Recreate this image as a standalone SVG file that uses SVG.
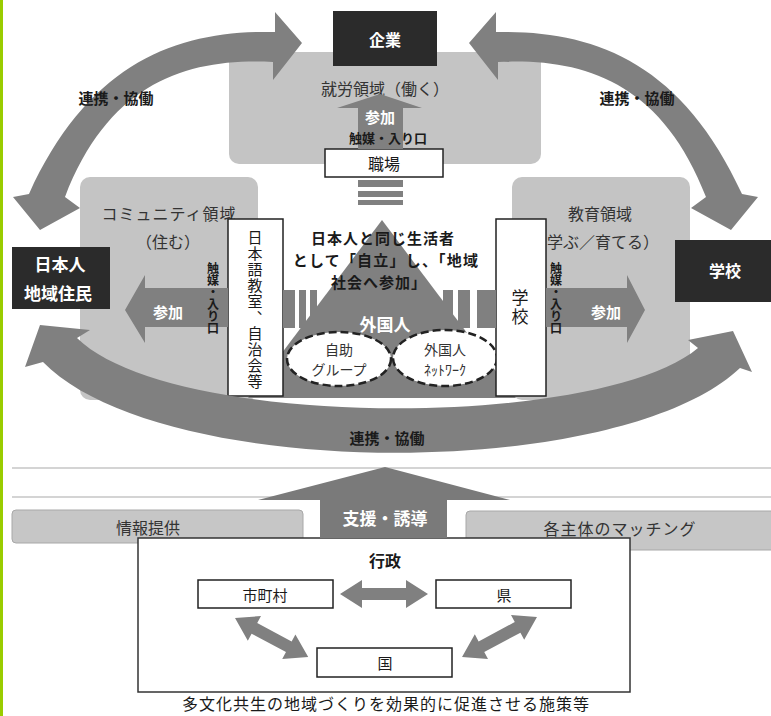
<svg xmlns="http://www.w3.org/2000/svg" width="771" height="716" viewBox="0 0 771 716">
<defs>
<style>
text{font-family:"Noto Sans CJK JP","Noto Sans CJK SC",sans-serif;text-anchor:middle;dominant-baseline:central;fill:#1a1a1a}
.b{font-weight:bold}
.w{fill:#fff}
.g{fill:#333}
.dom{fill:#c4c4c4}
.arr{fill:#808080}
.blk{fill:#2b2b2b}
.wbox{fill:#fff;stroke:#222;stroke-width:1.5}
.bar{fill:#c6c6c6;stroke:#a8a8a8;stroke-width:1}
.vt{writing-mode:vertical-rl;text-anchor:start}
.dash{fill:#fff;stroke:#222;stroke-width:2.5;stroke-dasharray:8 4}
.hl{stroke:#d4d4d4;stroke-width:2}
</style>
</defs>
<rect x="0" y="0" width="771" height="716" fill="#fff"/>
<rect x="0" y="0" width="3" height="716" fill="#99cc00"/>
<line class="hl" x1="12" y1="468" x2="771" y2="468"/>
<line class="hl" x1="12" y1="497" x2="771" y2="497"/>

<g id="work-domain">
<rect class="dom" x="229" y="52" width="312" height="112" rx="10"/>
<text x="385" y="88" font-size="16" class="g">就労領域（働く）</text>
</g>
<g id="community-domain">
<rect class="dom" x="80" y="177" width="178" height="223" rx="10"/>
<text x="169" y="213" font-size="16" class="g" letter-spacing="1">コミュニティ領域</text>
<text x="168" y="241" font-size="16" class="g">（住む）</text>
</g>
<g id="education-domain">
<rect class="dom" x="512" y="177" width="178" height="223" rx="10"/>
<text x="600" y="213" font-size="16" class="g">教育領域</text>
<text x="603" y="241" font-size="16" class="g">学ぶ／育てる）</text>
</g>

<g id="company">
<rect class="blk" x="333" y="11" width="104" height="55"/>
<text x="385" y="39" font-size="16" class="b w">企業</text>
</g>
<g id="workplace">
<rect class="wbox" x="325" y="149" width="118" height="28"/>
<text x="384" y="163" font-size="16">職場</text>
</g>
<g id="foreigners">
<polygon class="arr" points="382,220 516,398 248,398"/>
<text font-size="15" class="b"><tspan x="383" y="237" letter-spacing="1">日本人と同じ生活者</tspan><tspan x="386" y="259" letter-spacing="1.2">として「自立」し、「地域</tspan><tspan x="379" y="281" letter-spacing="1">社会へ参加」</tspan></text>
<text x="385" y="323" font-size="17" class="b w">外国人</text>
<g id="self-help-group">
<ellipse class="dash" cx="339" cy="359" rx="52" ry="27"/>
<text x="339" y="349" font-size="14" class="g">自助</text>
<text x="339" y="369" font-size="14" class="g">グループ</text>
</g>
<g id="foreigner-network">
<ellipse class="dash" cx="445" cy="358" rx="52" ry="28"/>
<text x="445" y="349" font-size="14" class="g">外国人</text>
<text x="445" y="369" font-size="14" class="g">ﾈｯﾄﾜｰｸ</text>
</g>
</g>
<g id="japanese-class">
<rect class="wbox" x="228" y="219" width="55" height="177"/>
<text class="vt" x="255" y="230" font-size="15" letter-spacing="1">日本語教室、自治会等</text>
</g>
<g id="school-inner">
<rect class="wbox" x="496" y="219" width="50" height="177"/>
<text class="vt" x="520" y="289" font-size="17" letter-spacing="2">学校</text>
</g>
<g id="residents">
<rect class="blk" x="12" y="247" width="98" height="62"/>
<text x="60" y="263" font-size="17" class="b w">日本人</text>
<text x="58" y="292" font-size="17" class="b w">地域住民</text>
</g>
<g id="school">
<rect class="blk" x="675" y="240" width="96" height="62"/>
<text x="725" y="270" font-size="16" class="b w">学校</text>
</g>
<g id="info">
<rect class="bar" x="12" y="510" width="291" height="33" rx="4"/>
<text x="148" y="527" font-size="16" class="g">情報提供</text>
</g>
<g id="matching">
<rect class="bar" x="466" y="511" width="310" height="39" rx="4"/>
<text x="620" y="528" font-size="16" class="g" letter-spacing="1">各主体のマッチング</text>
</g>
<g id="administration">
<rect fill="#fff" stroke="#333" stroke-width="1.5" x="138" y="538" width="492" height="154"/>
<text x="385" y="560" font-size="16" class="b">行政</text>
</g>
<g id="municipality">
<rect class="wbox" x="198" y="580" width="135" height="28"/>
<text x="265" y="594" font-size="15">市町村</text>
</g>
<g id="prefecture">
<rect class="wbox" x="436" y="580" width="135" height="28"/>
<text x="504" y="594" font-size="15">県</text>
</g>
<g id="nation">
<rect class="wbox" x="317" y="648" width="135" height="29"/>
<text x="385" y="662" font-size="15">国</text>
</g>
<text x="386" y="703" font-size="16" letter-spacing="1">多文化共生の地域づくりを効果的に促進させる施策等</text>

<g id="connectors">
<path class="arr" d="M275 32 L275 12 L302 43 L273 80 L273 62 C190 58 110 80 65 197 L80 208 L40 230 L13 197 L29 194 C90 60 180 30 275 32 Z"/>
<path class="arr" d="M496 32 L496 12 L469 43 L498 80 L498 62 C581 58 661 80 706 197 L691 208 L731 230 L758 197 L742 194 C681 60 591 30 496 32 Z"/>
<path class="arr" d="M77 338 C170 430 600 430 698 348 L688 340 L733 331 L752 372 L740 368 C620 482 160 482 43 362 L25 367 L40 325 L90 330 Z"/>
<text x="116" y="97" font-size="15" class="b">連携・協働</text>
<text x="637" y="97" font-size="15" class="b">連携・協働</text>
<text x="387" y="437" font-size="15" class="b">連携・協働</text>

<polygon class="arr" points="358,149 358,108 337,108 380,94 422,108 403,108 403,149"/>
<rect class="arr" x="358" y="180" width="45" height="7"/>
<rect class="arr" x="358" y="191" width="45" height="6"/>
<rect class="arr" x="358" y="200" width="45" height="5"/>
<text x="380" y="116" font-size="15" class="b w">参加</text>
<text x="388" y="137" font-size="13" class="b">触媒・入り口</text>

<polygon class="arr" points="228,288 145,288 145,275 125,310 145,343 145,327 228,327"/>
<rect class="arr" x="283" y="290" width="12" height="38"/>
<rect class="arr" x="299" y="290" width="7" height="38"/>
<rect class="arr" x="310" y="290" width="7" height="38"/>
<text x="168" y="311" font-size="15" class="b w">参加</text>
<text class="vt b" x="213" y="262" font-size="12">触媒・入り口</text>

<rect class="arr" x="443" y="290" width="10" height="38"/>
<rect class="arr" x="458" y="290" width="12" height="38"/>
<rect class="arr" x="477" y="290" width="19" height="38"/>
<polygon class="arr" points="546,288 627,288 627,275 645,310 627,343 627,327 546,327"/>
<text x="606" y="311" font-size="15" class="b w">参加</text>
<text class="vt b" x="556" y="262" font-size="12">触媒・入り口</text>

<polygon fill="#7a7a7a" points="320,538 320,500 258,500 385,467 510,500 447,500 447,538"/>
<text x="385" y="517" font-size="17" class="b w">支援・誘導</text>

<polygon class="arr" points="340,594 362,580 362,588 406,588 406,580 428,594 406,608 406,600 362,600 362,608"/>
<polygon class="arr" transform="translate(235,618) rotate(28.1)" points="0,0 22,-14 22,-6 61,-6 61,-14 83,0 61,14 61,6 22,6 22,14"/>
<polygon class="arr" transform="translate(537,617) rotate(151.9)" points="0,0 22,-14 22,-6 63,-6 63,-14 85,0 63,14 63,6 22,6 22,14"/>
</g>
</svg>
